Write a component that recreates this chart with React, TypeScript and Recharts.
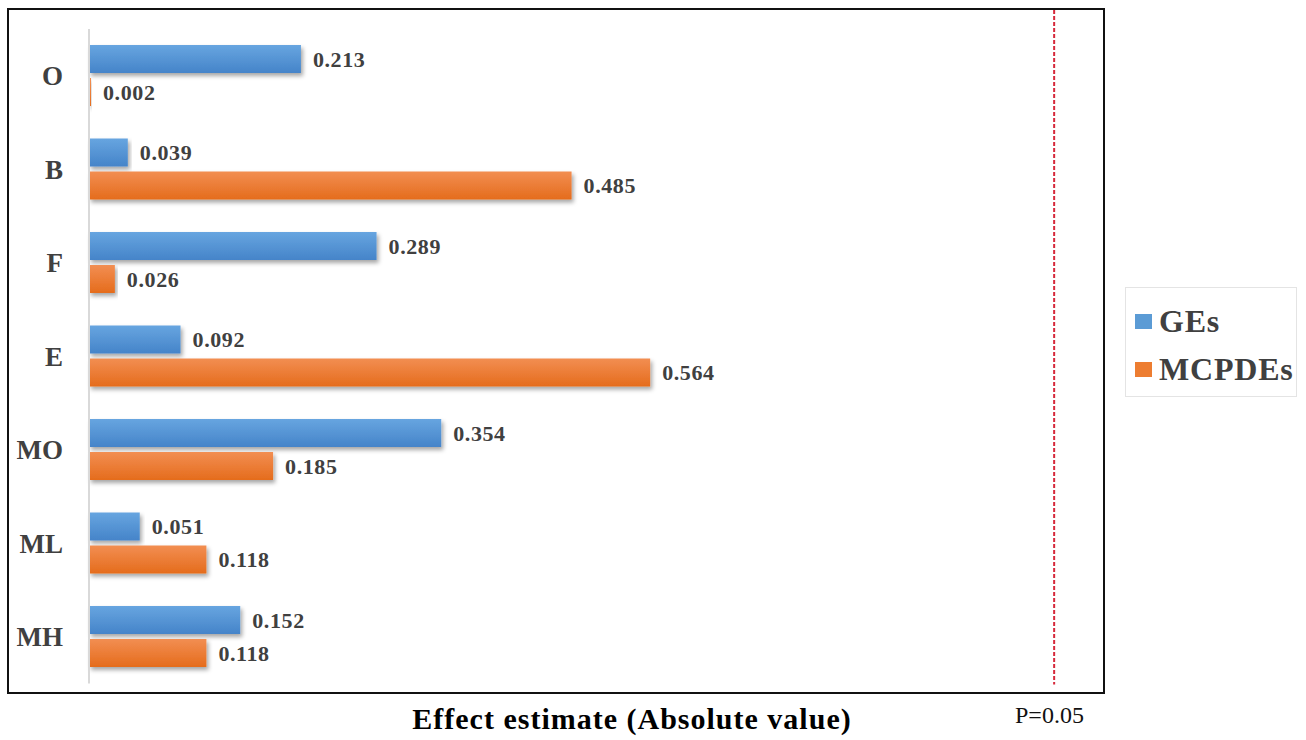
import React from 'react';
import {
  BarChart,
  Bar,
  XAxis,
  YAxis,
  LabelList,
  ReferenceLine,
  Legend,
} from 'recharts';

// Categories listed top to bottom
const categories = ['O', 'B', 'F', 'E', 'MO', 'ML', 'MH'];
// Absolute effect estimates
const gesValues = [0.213, 0.039, 0.289, 0.092, 0.354, 0.051, 0.152];
const mcpdesValues = [0.002, 0.485, 0.026, 0.564, 0.185, 0.118, 0.118];
// Threshold line position (P = 0.05)
const thresholdValue = 0.97;
const xDomain: [number, number] = [0, 1];

const seriesNames = { ges: 'GEs', mcpdes: 'MCPDEs' };

const data = categories.map((name, i) => ({
  name,
  ges: gesValues[i],
  mcpdes: mcpdesValues[i],
}));

const SERIF = '"Liberation Serif", "Times New Roman", serif';
const TEXT_GRAY = '#404040';

const fmt = (v: any) => Number(v).toFixed(3);

const labelStyle = {
  fontFamily: SERIF,
  fontWeight: 'bold',
  fontSize: 22,
  letterSpacing: 0.6,
  fill: TEXT_GRAY,
};

const LegendBox = () => (
  <div
    style={{
      width: 172,
      height: 110,
      border: '1px solid #e4e4e4',
      boxSizing: 'border-box',
      fontFamily: SERIF,
      fontWeight: 'bold',
      fontSize: 32,
      letterSpacing: 0.8,
      color: TEXT_GRAY,
      position: 'relative',
      background: '#fff',
    }}
  >
    {[
      { label: seriesNames.ges, color: '#5b9bd5', top: 16 },
      { label: seriesNames.mcpdes, color: '#ed7d31', top: 64 },
    ].map((it) => (
      <div
        key={it.label}
        style={{ position: 'absolute', left: 9, top: it.top, display: 'flex', alignItems: 'center', lineHeight: '34px' }}
      >
        <span style={{ display: 'inline-block', width: 17, height: 15, background: it.color, marginRight: 7 }} />
        <span>{it.label}</span>
      </div>
    ))}
  </div>
);

// Dashed threshold line, stretched slightly above the plot area
const DashedThreshold = (props: any) => {
  const { x1, y1, x2, y2 } = props;
  const top = Math.min(y1, y2);
  const bottom = Math.max(y1, y2);
  return (
    <line
      x1={x1}
      x2={x2}
      y1={top - 19}
      y2={bottom + 1}
      stroke="#d6293b"
      strokeWidth={2}
      strokeDasharray="4 2"
    />
  );
};

export default function App() {
  return (
    <div style={{ position: 'absolute', left: 0, top: 0, width: 1306, height: 740, background: '#fff' }}>
      <BarChart
        width={1306}
        height={740}
        layout="vertical"
        data={data}
        margin={{ top: 29, right: 222, bottom: 56.5, left: 0 }}
        barSize={28}
        barGap={5}
      >
        <defs>
          <linearGradient id="gradBlue" x1="0" y1="0" x2="0" y2="1">
            <stop offset="0%" stopColor="#67a5e0" />
            <stop offset="100%" stopColor="#4584c9" />
          </linearGradient>
          <linearGradient id="gradOrange" x1="0" y1="0" x2="0" y2="1">
            <stop offset="0%" stopColor="#f28e52" />
            <stop offset="100%" stopColor="#e56c1c" />
          </linearGradient>
          <filter id="barShadow" x="-5%" y="-20%" width="115%" height="160%">
            <feDropShadow dx="2" dy="3" stdDeviation="2" floodColor="#000" floodOpacity="0.35" />
          </filter>
        </defs>
        <XAxis type="number" domain={xDomain} hide />
        <YAxis
          type="category"
          dataKey="name"
          width={89}
          tickLine={false}
          tickSize={0}
          tickMargin={26}
          axisLine={{ stroke: '#d9d9d9', strokeWidth: 2 }}
          tick={{ fontFamily: SERIF, fontWeight: 'bold', fontSize: 27, fill: TEXT_GRAY }}
        />
        <ReferenceLine x={thresholdValue} shape={DashedThreshold} ifOverflow="visible" />
        <Bar
          dataKey="ges"
          name={seriesNames.ges}
          fill="url(#gradBlue)"
          filter="url(#barShadow)"
          isAnimationActive={false}
        >
          <LabelList dataKey="ges" position="right" offset={12} formatter={fmt} style={labelStyle} />
        </Bar>
        <Bar
          dataKey="mcpdes"
          name={seriesNames.mcpdes}
          fill="url(#gradOrange)"
          filter="url(#barShadow)"
          isAnimationActive={false}
        >
          <LabelList dataKey="mcpdes" position="right" offset={12} formatter={fmt} style={labelStyle} />
        </Bar>
        <Legend
          layout="horizontal"
          verticalAlign="middle"
          align="center"
          content={<LegendBox />}
          wrapperStyle={{ position: 'absolute', left: 1125, top: 287, width: 172, height: 110 }}
        />
      </BarChart>
      {/* chart frame */}
      <div
        style={{
          position: 'absolute',
          left: 7,
          top: 8,
          width: 1098,
          height: 686,
          border: '2px solid #111',
          boxSizing: 'border-box',
          pointerEvents: 'none',
        }}
      />
      <div
        style={{
          position: 'absolute',
          left: 0,
          width: 1264,
          top: 704,
          textAlign: 'center',
          fontFamily: SERIF,
          fontWeight: 'bold',
          fontSize: 30,
          letterSpacing: 1,
          lineHeight: '30px',
          color: '#000',
          whiteSpace: 'nowrap',
        }}
      >
        Effect estimate (Absolute value)
      </div>
      <div
        style={{
          position: 'absolute',
          left: 1015,
          top: 703,
          fontFamily: SERIF,
          fontSize: 24,
          lineHeight: '24px',
          color: '#111',
          whiteSpace: 'nowrap',
        }}
      >
        P=0.05
      </div>
    </div>
  );
}
